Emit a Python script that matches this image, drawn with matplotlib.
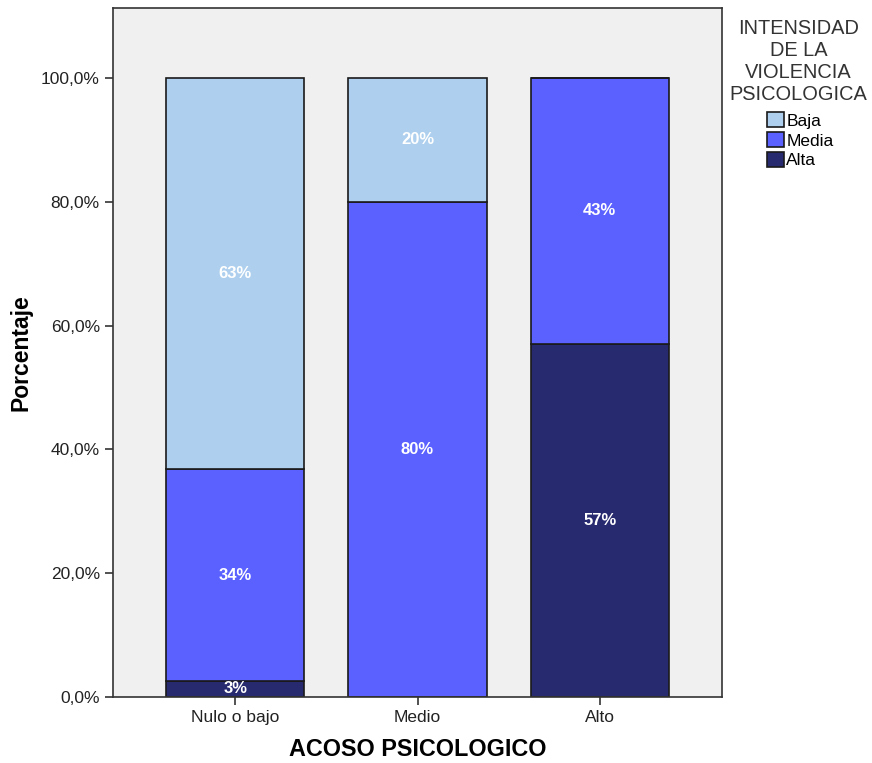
import matplotlib.pyplot as plt

plt.rcParams['font.family'] = ['Liberation Sans', 'DejaVu Sans']

grupos = ['Nulo o bajo', 'Medio', 'Alto']
alta = [2.6, 0.0, 57.1]
media = [34.2, 80.0, 42.9]
baja = [63.2, 20.0, 0.0]
etiquetas_alta = ['3%', '', '57%']
etiquetas_media = ['34%', '80%', '43%']
etiquetas_baja = ['63%', '20%', '']

colores = {'Baja': '#aed0ee', 'Media': '#5b61ff', 'Alta': '#282a70'}

fig = plt.figure(figsize=(8.72, 7.63), dpi=100)
ax = fig.add_axes([0.1296, 0.0865, 0.6984, 0.903])
ax.set_facecolor('#f0f0f0')

x = range(len(grupos))
w = 0.76
b1 = ax.bar(x, alta, w, color=colores['Alta'], edgecolor='#1a1a1a', linewidth=1.2, label='Alta')
bottom2 = alta
b2 = ax.bar(x, media, w, bottom=bottom2, color=colores['Media'], edgecolor='#1a1a1a', linewidth=1.2, label='Media')
bottom3 = [a + m for a, m in zip(alta, media)]
b3 = ax.bar(x, baja, w, bottom=bottom3, color=colores['Baja'], edgecolor='#1a1a1a', linewidth=1.2, label='Baja')

for i in x:
    if etiquetas_alta[i]:
        ax.text(i, alta[i] / 2, etiquetas_alta[i], ha='center', va='center', color='white',
                fontweight='bold', fontsize=12)
    if etiquetas_media[i]:
        ax.text(i, bottom2[i] + media[i] / 2, etiquetas_media[i], ha='center', va='center',
                color='white', fontweight='bold', fontsize=12)
    if etiquetas_baja[i]:
        ax.text(i, bottom3[i] + baja[i] / 2, etiquetas_baja[i], ha='center', va='center',
                color='white', fontweight='bold', fontsize=12)

ax.set_xlim(-0.67, 2.67)
ax.set_ylim(0, 111.3)
ax.set_xticks(list(x))
ax.set_xticklabels(grupos, fontsize=12.5)
yt = [0, 20, 40, 60, 80, 100]
ax.set_yticks(yt)
ax.set_yticklabels([f'{v},0%' for v in yt], fontsize=12.5)
ax.tick_params(length=6, width=1.2, color='#333333', labelcolor='#222222')
for s in ax.spines.values():
    s.set_color('#333333')
    s.set_linewidth(1.2)

ax.set_xlabel('ACOSO PSICOLOGICO', fontsize=16.8, fontweight='bold', labelpad=9)
ax.set_ylabel('Porcentaje', fontsize=16.5, fontweight='bold', labelpad=6)

fig.text(0.916, 0.975, 'INTENSIDAD\nDE LA\nVIOLENCIA\nPSICOLOGICA', ha='center', va='top',
         fontsize=14.4, color='#333333', multialignment='center', linespacing=1.2)

handles = [b3, b2, b1]
leg = fig.legend(handles, ['Baja', 'Media', 'Alta'],
                 loc='upper left', bbox_to_anchor=(0.880, 0.853), frameon=False, fontsize=12.5,
                 handlelength=0.95, handleheight=0.95, handletextpad=0.15,
                 labelspacing=0.2, borderaxespad=0, borderpad=0)

fig.savefig('out.png', dpi=100)
